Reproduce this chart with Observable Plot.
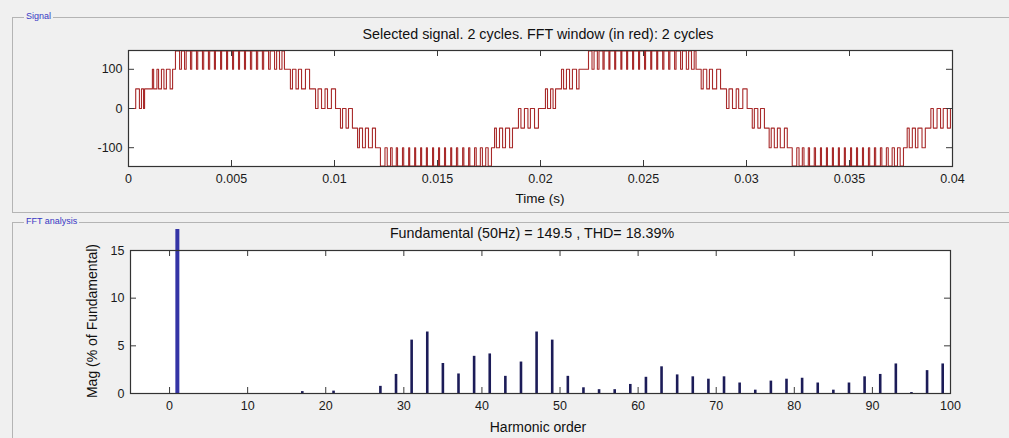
<!DOCTYPE html>
<html><head><meta charset="utf-8">
<script src="https://cdn.jsdelivr.net/npm/d3@7"></script>
<script src="https://cdn.jsdelivr.net/npm/@observablehq/plot@0.6"></script>
<style>
body{margin:0;background:#f0f0f0;width:1009px;height:438px;overflow:hidden;position:relative;font-family:"Liberation Sans",Arial,sans-serif;}
.box{position:absolute;border:1px solid #b4b4b4;}
.boxlabel{position:absolute;font-size:9px;color:#3838c4;background:#f0f0f0;padding:0 2px;line-height:11px;}
.txt{position:absolute;color:#111;white-space:nowrap;transform:translate(-50%,-50%);}
.plot{position:absolute;left:0;}
</style></head><body>
<div class="box" style="left:12px;top:17px;width:1010px;height:194px"></div>
<div class="boxlabel" style="left:24px;top:11px">Signal</div>
<div class="box" style="left:12px;top:222px;width:1010px;height:230px"></div>
<div class="boxlabel" style="left:24px;top:216px">FFT analysis</div>
<div id="top" class="plot" style="top:0px"></div>
<div id="bot" class="plot" style="top:210px"></div>
<div class="txt" style="left:538px;top:34px;font-size:14.3px">Selected signal. 2 cycles. FFT window (in red): 2 cycles</div>
<div class="txt" style="left:540px;top:198px;font-size:13.5px">Time (s)</div>
<div class="txt" style="left:532px;top:233px;font-size:14.3px">Fundamental (50Hz) = 149.5 , THD= 18.39%</div>
<div class="txt" style="left:538px;top:427px;font-size:14px">Harmonic order</div>
<div class="txt" style="left:92px;top:321px;font-size:14px;transform:translate(-50%,-50%) rotate(-90deg)">Mag (% of Fundamental)</div>
<script>
// Selected signal: step breakpoints [time (ms), level]
const signalSteps = [
[0,0],[0.35,50],[0.53,0],[0.63,50],[0.73,0],[0.78,50],
[1.16,100],[1.22,50],[1.38,100],[1.46,50],[1.60,100],[1.72,50],[1.84,100],[2.02,50],[2.14,100],
[2.28,147],
[2.48,100],[2.57,147],[2.72,100],[2.80,147],[3.01,100],[3.07,147],[3.30,100],[3.36,147],[3.59,100],[3.65,147],[3.88,100],[3.94,147],[4.17,100],[4.22,147],[4.47,100],[4.52,147],[4.76,100],[4.81,147],[5.05,100],[5.10,147],[5.34,100],[5.39,147],[5.63,100],[5.68,147],[5.92,100],[5.98,147],[6.21,100],[6.27,147],[6.50,100],[6.56,147],[6.80,100],[6.88,147],[7.09,100],[7.19,147],[7.33,100],[7.45,147],
[7.57,100],
[7.86,50],[7.96,100],[8.13,50],[8.25,100],[8.40,50],[8.59,100],[8.79,50],
[9.08,0],[9.20,50],[9.37,0],[9.54,50],[9.66,0],[9.85,50],[10.05,0],
[10.29,-50],[10.39,0],[10.56,-50],[10.68,0],[10.87,-50],
[11.12,-100],[11.21,-50],[11.36,-100],[11.50,-50],[11.65,-100],[11.84,-50],[11.99,-100],
[12.23,-147],
[12.45,-100],[12.56,-147],[12.72,-100],[12.80,-147],[13.00,-100],[13.06,-147],[13.30,-100],[13.36,-147],[13.60,-100],[13.65,-147],[13.89,-100],[13.94,-147],[14.18,-100],[14.23,-147],[14.46,-100],[14.51,-147],[14.76,-100],[14.81,-147],[15.05,-100],[15.10,-147],[15.34,-100],[15.39,-147],[15.64,-100],[15.69,-147],[15.92,-100],[15.98,-147],[16.22,-100],[16.28,-147],[16.51,-100],[16.57,-147],[16.80,-100],[16.88,-147],[17.08,-100],[17.18,-147],[17.34,-100],[17.46,-147],
[17.62,-100],
[17.77,-50],[17.86,-100],[18.01,-50],[18.16,-100],[18.30,-50],[18.50,-100],[18.64,-50],
[18.93,0],[19.05,-50],[19.22,0],[19.39,-50],[19.51,0],[19.71,-50],[19.90,0],
[20.24,50],[20.34,0],[20.49,50],[20.61,0],[20.73,50],
[21.02,100],[21.12,50],[21.26,100],[21.41,50],[21.55,100],[21.75,50],[21.87,100],
[22.33,147],
[22.50,100],[22.60,147],[22.76,100],[22.84,147],[23.03,100],[23.09,147],[23.32,100],[23.37,147],[23.60,100],[23.65,147],[23.90,100],[23.95,147],[24.18,100],[24.23,147],[24.47,100],[24.52,147],[24.76,100],[24.81,147],[25.05,100],[25.10,147],[25.35,100],[25.40,147],[25.64,100],[25.69,147],[25.93,100],[25.99,147],[26.22,100],[26.28,147],[26.51,100],[26.58,147],[26.80,100],[26.89,147],[27.08,100],[27.19,147],[27.33,100],[27.46,147],
[27.55,100],
[27.80,50],[27.90,100],[28.07,50],[28.20,100],[28.35,50],[28.55,100],[28.74,50],
[29.03,0],[29.15,50],[29.32,0],[29.50,50],[29.62,0],[29.82,50],[30.03,0],
[30.28,-50],[30.38,0],[30.55,-50],[30.68,0],[30.87,-50],
[31.10,-100],[31.20,-50],[31.35,-100],[31.50,-50],[31.64,-100],[31.84,-50],[31.98,-100],
[32.22,-147],
[32.44,-100],[32.55,-147],[32.71,-100],[32.79,-147],[33.00,-100],[33.06,-147],[33.29,-100],[33.35,-147],[33.59,-100],[33.64,-147],[33.88,-100],[33.93,-147],[34.17,-100],[34.22,-147],[34.46,-100],[34.51,-147],[34.75,-100],[34.80,-147],[35.05,-100],[35.10,-147],[35.34,-100],[35.39,-147],[35.63,-100],[35.68,-147],[35.92,-100],[35.98,-147],[36.21,-100],[36.27,-147],[36.50,-100],[36.57,-147],[36.79,-100],[36.88,-147],[37.07,-100],[37.18,-147],[37.33,-100],[37.46,-147],
[37.62,-100],
[37.80,-50],[37.90,-100],[38.05,-50],[38.20,-100],[38.32,-50],[38.52,-100],[38.68,-50],
[38.95,0],[39.07,-50],[39.25,0],[39.42,-50],[39.55,0],[39.75,-50],[39.90,0],[40,0]
];
const timeTicks = [0, 0.005, 0.01, 0.015, 0.02, 0.025, 0.03, 0.035, 0.04];
const signalTicks = [-100, 0, 100];

// FFT analysis
const harmonicOrder = [1, 17, 21, 27, 29, 31, 33, 35, 37, 39, 41, 43, 45, 47, 49, 51, 53, 55, 57, 59, 61, 63, 65, 67, 69, 71, 73, 75, 77, 79, 81, 83, 85, 87, 89, 91, 93, 95, 97, 99];
const harmonicMag  = [17.2, 0.2, 0.25, 0.75, 2.0, 5.6, 6.45, 3.15, 2.05, 3.9, 4.15, 1.8, 3.3, 6.45, 5.6, 1.8, 0.6, 0.4, 0.4, 0.95, 1.7, 2.8, 1.95, 1.75, 1.5, 1.75, 1.1, 0.35, 1.3, 1.5, 1.6, 1.1, 0.35, 1.1, 1.75, 2.0, 3.1, 0.1, 2.4, 3.1];
const harmonicTicks = [0, 10, 20, 30, 40, 50, 60, 70, 80, 90, 100];
const magTicks = [0, 5, 10, 15];

const harmonics = harmonicOrder.map((h, i) => ({order: h, mag: harmonicMag[i]}));
const style = {background: "transparent", fontFamily: "'Liberation Sans', Arial, sans-serif", fontSize: "12.5px", color: "#1a1a1a", overflow: "visible"};
const tickColor = "#3a3a3a";

const topPlot = Plot.plot({
  width: 1009, height: 210,
  marginLeft: 128, marginRight: 57, marginTop: 50, marginBottom: 44,
  x: {domain: [0, 0.04]},
  y: {domain: [-148, 148]},
  style,
  marks: [
    Plot.frame({fill: "white", stroke: null}),
    Plot.line(signalSteps, {x: d => d[0] / 1000, y: d => d[1], curve: "step-after", stroke: "#a82a2a", strokeWidth: 1.1}),
    Plot.tickX(timeTicks, {x: d => d, insetTop: 110, stroke: tickColor}),
    Plot.tickX(timeTicks, {x: d => d, insetBottom: 110, stroke: tickColor}),
    Plot.tickY(signalTicks, {y: d => d, insetRight: 818, stroke: tickColor}),
    Plot.tickY(signalTicks, {y: d => d, insetLeft: 818, stroke: tickColor}),
    Plot.axisX(timeTicks, {tickSize: 0, tickPadding: 8, tickFormat: d => String(d), label: null}),
    Plot.axisY(signalTicks, {tickSize: 0, tickPadding: 6, tickFormat: d => String(d), label: null}),
    Plot.frame({stroke: "#333", strokeWidth: 1.2})
  ]
});
document.getElementById("top").appendChild(topPlot);

const botPlot = Plot.plot({
  width: 1009, height: 228,
  marginLeft: 130, marginRight: 59, marginTop: 40, marginBottom: 45,
  x: {domain: [-5, 100]},
  y: {domain: [0, 15]},
  style,
  marks: [
    Plot.frame({fill: "white", stroke: null}),
    Plot.tickX(harmonicTicks, {x: d => d, insetTop: 137, stroke: tickColor}),
    Plot.tickX(harmonicTicks, {x: d => d, insetBottom: 137, stroke: tickColor}),
    Plot.tickY(magTicks, {y: d => d, insetRight: 814, stroke: tickColor}),
    Plot.tickY(magTicks, {y: d => d, insetLeft: 814, stroke: tickColor}),
    Plot.ruleX(harmonics.filter(d => d.order !== 1), {x: "order", y1: 0, y2: "mag", stroke: "#1c1c58", strokeWidth: 2.6}),
    Plot.ruleX(harmonics.filter(d => d.order === 1), {x: "order", y1: 0, y2: "mag", stroke: "#3434a6", strokeWidth: 4}),
    Plot.axisX(harmonicTicks, {tickSize: 0, tickPadding: 8, tickFormat: d => String(d), label: null}),
    Plot.axisY(magTicks, {tickSize: 0, tickPadding: 6, tickFormat: d => String(d), label: null}),
    Plot.frame({stroke: "#333", strokeWidth: 1.2})
  ]
});
document.getElementById("bot").appendChild(botPlot);
</script>
</body></html>
